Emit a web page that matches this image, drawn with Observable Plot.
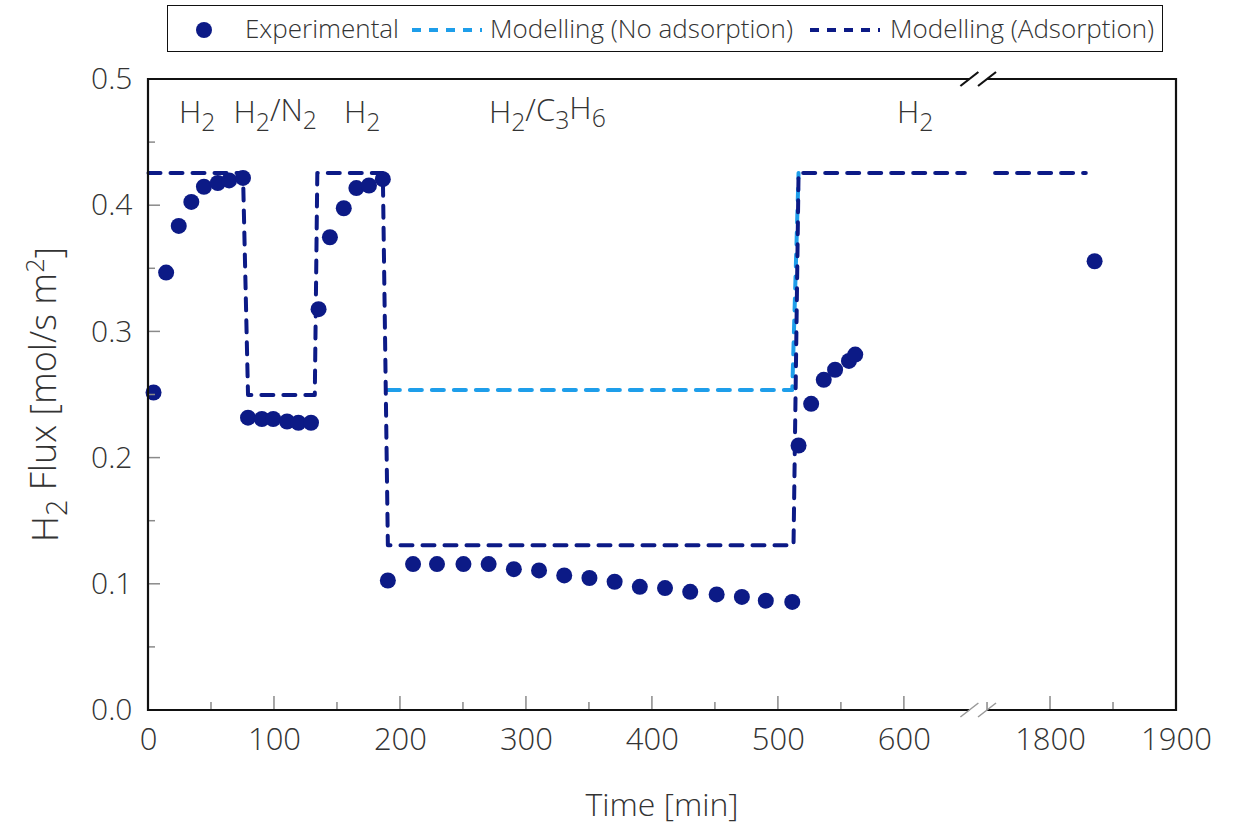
<!DOCTYPE html>
<html><head><meta charset="utf-8">
<script src="https://cdn.jsdelivr.net/npm/d3@7"></script>
<script src="https://cdn.jsdelivr.net/npm/@observablehq/plot@0.6"></script>
<style>
body{margin:0;background:#fff;font-family:"Open Sans",sans-serif;}
#wrap{position:relative;width:1237px;height:829px;}
#legend{position:absolute;left:167px;top:5px;width:994px;height:45px;border:1.5px solid #111;background:#fff;box-sizing:content-box;}
#legend .t{position:absolute;top:6px;font-size:26px;color:#333;font-weight:300;white-space:nowrap;line-height:32px;}
#legend svg{position:absolute;top:0;}
#chart{position:absolute;left:0;top:0;}
</style></head>
<body><div id="wrap"><div id="chart"></div><div id="legend"></div></div>
<script>
// ---- data ----
const expTime = [4,14,24,34,44,55,64,75, 79,90,99,110,119,129, 135,144,155,165,175,186,
  190,210,229,250,270,290,310,330,350,370,390,410,430,451,471,490,511, 516,526,536,545,556,561, 1835];
const expFlux = [0.252,0.347,0.384,0.403,0.415,0.418,0.420,0.422, 0.232,0.231,0.231,0.229,0.228,0.228,
  0.318,0.375,0.398,0.414,0.416,0.421,
  0.103,0.116,0.116,0.116,0.116,0.112,0.111,0.107,0.105,0.102,0.098,0.097,0.094,0.092,0.090,0.087,0.086,
  0.210,0.243,0.262,0.270,0.277,0.282, 0.356];
const adsTime = [0,75,79,132,134,186,190,512,516,648,700,1756,1828];
const adsFlux = [0.426,0.426,0.250,0.250,0.426,0.426,0.131,0.131,0.426,0.426,null,0.426,0.426];
const noAdsTime = [190,511,516];
const noAdsFlux = [0.254,0.254,0.426];
const xTickValues = [0,100,200,300,400,500,600,1800,1900];
const xTickLabels = ["0","100","200","300","400","500","600","1800","1900"];
const xMinorTicks = [50,150,250,350,450,550,1750,1850];
const yTickValues = [0,0.1,0.2,0.3,0.4,0.5];
const yTickLabels = ["0.0","0.1","0.2","0.3","0.4","0.5"];
const yMinorTicks = [0.05,0.15,0.25,0.35,0.45];
const phaseLabels = ["H2","H2/N2","H2","H2/C3H6","H2"];
const phaseTime = [39,101,170,317,609];
const seriesNames = ["Experimental","Modelling (No adsorption)","Modelling (Adsorption)"];

// ---- broken axis transform ----
const GAP = 1084;            // 1800 -> 716
const tx = t => t > 1000 ? t - GAP : t;
const breakLo = 652, breakHi = 1750;

const navy = "#0c1a86", sky = "#1e9eea", tickGray = "#8a8a8a";

const expData = expTime.map((t,i)=>({t:tx(t), f:expFlux[i]}));
const adsData = adsTime.map((t,i)=>({t:tx(t), f:adsFlux[i]}));
const noAdsData = noAdsTime.map((t,i)=>({t:tx(t), f:noAdsFlux[i]}));
const labelMap = new Map(xTickValues.map((v,i)=>[tx(v), xTickLabels[i]]));
const yLabelMap = new Map(yTickValues.map((v,i)=>[v, yTickLabels[i]]));

const plot = Plot.plot({
  width: 1237, height: 829,
  marginLeft: 148, marginRight: 61, marginTop: 79, marginBottom: 119,
  style: {fontFamily: "Open Sans", fontSize: "30px", color: "#333", background: "#fff"},
  x: {domain: [0, tx(1900)], axis: null, label: null},
  y: {domain: [0, 0.5], axis: null, label: null},
  marks: [
    Plot.axisX(xTickValues.map(tx), {label: null, tickSize: 0, tickPadding: 17, tickFormat: v => labelMap.get(v), fontSize: 31, fontWeight: 300, fill: "#333"}),
    Plot.axisY(yTickValues, {label: null, tickSize: 0, tickPadding: 16, tickFormat: v => yLabelMap.get(v), fontSize: 30, fontWeight: 300, fill: "#333"}),
    Plot.line(noAdsData, {x: "t", y: "f", stroke: sky, strokeWidth: 4, strokeDasharray: "12,10"}),
    Plot.line(adsData, {x: "t", y: "f", stroke: navy, strokeWidth: 4, strokeDasharray: "12,10"}),
    Plot.dot(expData, {x: "t", y: "f", r: 8, fill: navy, stroke: "none"})
  ]
});
document.getElementById("chart").appendChild(plot);

// ---- post-processing: frame, ticks, break marks, titles ----
const svg = d3.select(plot);
const X = v => plot.scale("x").apply(tx(v));
const Y = v => plot.scale("y").apply(v);
const g = svg.append("g");

// inner ticks
const tk = g.append("g").attr("stroke", tickGray).attr("stroke-width", 1.5);
xTickValues.slice(1).forEach(v => tk.append("line").attr("x1", X(v)).attr("x2", X(v)).attr("y1", Y(0)).attr("y2", Y(0)-14));
xMinorTicks.forEach(v => tk.append("line").attr("x1", X(v)).attr("x2", X(v)).attr("y1", Y(0)).attr("y2", Y(0)-8));
yTickValues.slice(1,-1).forEach(v => tk.append("line").attr("x1", X(0)).attr("x2", X(0)+12).attr("y1", Y(v)).attr("y2", Y(v)));
yMinorTicks.forEach(v => tk.append("line").attr("x1", X(0)).attr("x2", X(0)+7).attr("y1", Y(v)).attr("y2", Y(v)));

// frame
const fr = g.append("g").attr("stroke", "#111").attr("stroke-width", 2.2).attr("fill","none");
fr.append("line").attr("x1", X(0)).attr("x2", X(0)).attr("y1", Y(0)+1).attr("y2", Y(0.5)-1);
fr.append("line").attr("x1", X(1900)).attr("x2", X(1900)).attr("y1", Y(0)+1).attr("y2", Y(0.5)-1);
[0, 0.5].forEach(yv => {
  fr.append("line").attr("x1", X(0)).attr("x2", X(breakLo)).attr("y1", Y(yv)).attr("y2", Y(yv));
  fr.append("line").attr("x1", X(breakHi)).attr("x2", X(1900)).attr("y1", Y(yv)).attr("y2", Y(yv));
});
// break slashes
[[0.5, "#111"], [0, "#999"]].forEach(([yv, col]) => {
  [breakLo, breakHi].forEach(xv => {
    g.append("line").attr("x1", X(xv)-9).attr("x2", X(xv)+9).attr("y1", Y(yv)+7).attr("y2", Y(yv)-7)
      .attr("stroke", col).attr("stroke-width", yv ? 2.2 : 1.5);
  });
});

// text helper with subscripts / superscripts
function richText(sel, parts) {
  parts.forEach(([s, kind]) => {
    const ts = sel.append("tspan").text(s);
    if (kind === "sub") ts.attr("font-size", "0.8em").attr("dy", "0.32em");
    if (kind === "sup") ts.attr("font-size", "0.7em").attr("dy", "-0.45em");
    if (kind === "back") ts.attr("dy", "-0.32em");
    if (kind === "backsup") ts.attr("dy", "0.45em");
  });
}
function parseChem(s) {
  const parts = []; let prevSub = false;
  for (const ch of s) {
    if (/[0-9]/.test(ch)) { parts.push([ch, "sub"]); prevSub = true; }
    else { parts.push([ch, prevSub ? "back" : ""]); prevSub = false; }
  }
  return parts;
}
const tg = g.append("g").attr("fill", "#333").attr("font-family", "Open Sans").attr("font-weight", 300);
phaseLabels.forEach((lab, i) => {
  const t = tg.append("text").attr("x", X(phaseTime[i])).attr("y", Y(0.465)).attr("text-anchor", "middle").attr("font-size", 31);
  richText(t, parseChem(lab));
});
// axis titles
tg.append("text").attr("x", (X(0)+X(1900))/2).attr("y", 816).attr("text-anchor", "middle").attr("font-size", 32).text("Time [min]");
const yt = tg.append("text").attr("transform", `translate(58,${(Y(0)+Y(0.5))/2}) rotate(-90)`).attr("text-anchor", "middle").attr("font-size", 36);
richText(yt, [["H",""],["2","sub"],[" Flux [mol/s m","back"],["2","sup"],["]","backsup"]]);

// ---- legend ----
const leg = d3.select("#legend");
const L0 = 167;
function swatchLine(left, col) {
  const s = leg.append("svg").attr("width", 76).attr("height", 45).style("left", (left - L0) + "px");
  s.append("line").attr("x1", 3).attr("x2", 73).attr("y1", 24).attr("y2", 24).attr("stroke", col).attr("stroke-width", 4).attr("stroke-dasharray", "9,8");
}
const sd = leg.append("svg").attr("width", 24).attr("height", 45).style("left", (203 - 12 - L0) + "px");
sd.append("circle").attr("cx", 12).attr("cy", 24).attr("r", 8).attr("fill", navy);
leg.append("span").attr("class","t").style("left", (244 - L0) + "px").text(seriesNames[0]);
swatchLine(408, sky);
leg.append("span").attr("class","t").style("left", (489 - L0) + "px").text(seriesNames[1]);
swatchLine(806, navy);
leg.append("span").attr("class","t").style("left", (889 - L0) + "px").text(seriesNames[2]);
</script>
</body></html>
